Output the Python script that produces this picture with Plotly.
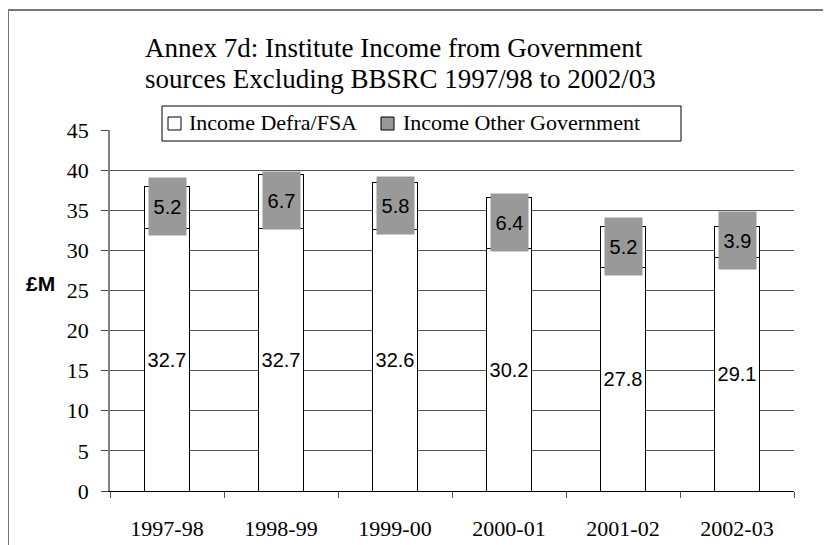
import plotly.graph_objects as go

categories = ["1997-98", "1998-99", "1999-00", "2000-01", "2001-02", "2002-03"]
defra_fsa = [32.7, 32.7, 32.6, 30.2, 27.8, 29.1]
other_gov = [5.2, 6.7, 5.8, 6.4, 5.2, 3.9]
y_ticks = [0, 5, 10, 15, 20, 25, 30, 35, 40, 45]
legend_names = ["Income Defra/FSA", "Income Other Government"]
legend_colors = ["white", "#999999"]

# the page body has an 8px margin, so the figure is drawn 8px smaller and
# all reference-screen coordinates below are converted through px()/py().
OFF = 8
W, H = 831 - OFF, 545 - OFF
X0, X1, Y0, Y1 = 110, 794, 491, 130          # plot area in screen px
L, R, T, B = X0 - OFF, 831 - X1, Y1 - OFF, 545 - Y0
pw, ph = X1 - X0, Y0 - Y1

def px(x):
    return (x - X0) / pw

def py(y):
    return (Y0 - y) / ph

serif = "Liberation Serif, Times New Roman, serif"
sans = "Liberation Sans, Arial, sans-serif"

fig = go.Figure()
fig.add_trace(go.Bar(
    x=categories, y=defra_fsa, name=legend_names[0],
    marker=dict(color="white", line=dict(color="black", width=1)),
    text=[f"{v:.1f}" for v in defra_fsa], textposition="inside",
    insidetextanchor="middle", textangle=0,
    textfont=dict(family=sans, size=20, color="black"),
    hoverinfo="skip"))
fig.add_trace(go.Bar(
    x=categories, y=other_gov, name=legend_names[1],
    marker=dict(color="white", line=dict(color="black", width=1)),
    hoverinfo="skip"))

# labels of the top segment (grey boxes)
for c, d, o in zip(categories, defra_fsa, other_gov):
    fig.add_annotation(x=c, y=d + o / 2, xref="x", yref="y", text=f"{o:.1f}",
                       showarrow=False, bgcolor="#999999", width=35, height=55,
                       align="center", valign="middle", yshift=1,
                       font=dict(family=sans, size=20, color="black"))

# title lines
fig.add_annotation(xref="paper", yref="paper", x=px(143), y=py(48), xanchor="left", yanchor="middle",
                   text="Annex 7d: Institute Income from Government", showarrow=False,
                   font=dict(family=serif, size=27, color="black"))
fig.add_annotation(xref="paper", yref="paper", x=px(143), y=py(79), xanchor="left", yanchor="middle",
                   text="sources Excluding BBSRC 1997/98 to 2002/03", showarrow=False,
                   font=dict(family=serif, size=27, color="black"))
# y-axis title
fig.add_annotation(xref="paper", yref="paper", x=px(40), y=py(283), xanchor="center", yanchor="middle",
                   text="<b>£M</b>", showarrow=False,
                   font=dict(family=sans, size=21, color="black"))

# outer frame
fig.add_shape(type="rect", xref="paper", yref="paper", x0=px(8), y0=py(10), x1=px(900), y1=py(600),
              line=dict(color="#777777", width=2), fillcolor="rgba(0,0,0,0)", layer="above")
# legend box
fig.add_shape(type="rect", xref="paper", yref="paper", x0=px(162), y0=py(106), x1=px(681), y1=py(141),
              line=dict(color="black", width=1), fillcolor="white", layer="above")
# legend entries
for name, col, sx, tx in zip(legend_names, legend_colors, [168, 381], [187, 401]):
    fig.add_shape(type="rect", xref="paper", yref="paper", x0=px(sx), y0=py(117), x1=px(sx + 13), y1=py(130),
                  line=dict(color="black", width=1), fillcolor=col, layer="above")
    fig.add_annotation(xref="paper", yref="paper", x=px(tx), y=py(123), xanchor="left", yanchor="middle",
                       text=name, showarrow=False,
                       font=dict(family=serif, size=22, color="black"))

fig.update_layout(
    width=W, height=H,
    margin=dict(l=L, r=R, t=T, b=B, autoexpand=False),
    paper_bgcolor="white", plot_bgcolor="white",
    barmode="stack", bargap=0.605,
    showlegend=False,
    xaxis=dict(type="category", showline=True, linecolor="black", linewidth=1,
               ticks="outside", tickson="boundaries", ticklen=6, tickcolor="#555555",
               showgrid=False, ticklabelstandoff=18, automargin=False,
               tickfont=dict(family=serif, size=22, color="black")),
    yaxis=dict(range=[0, 45], tickvals=y_ticks, showline=True, linecolor="#808080", linewidth=1.5,
               ticks="outside", ticklen=7, tickcolor="#444444", ticklabelstandoff=8,
               showgrid=True, gridcolor="#555555", gridwidth=1, zeroline=False, automargin=False,
               tickfont=dict(family=serif, size=22, color="black")),
)

fig.write_html("out.html")
